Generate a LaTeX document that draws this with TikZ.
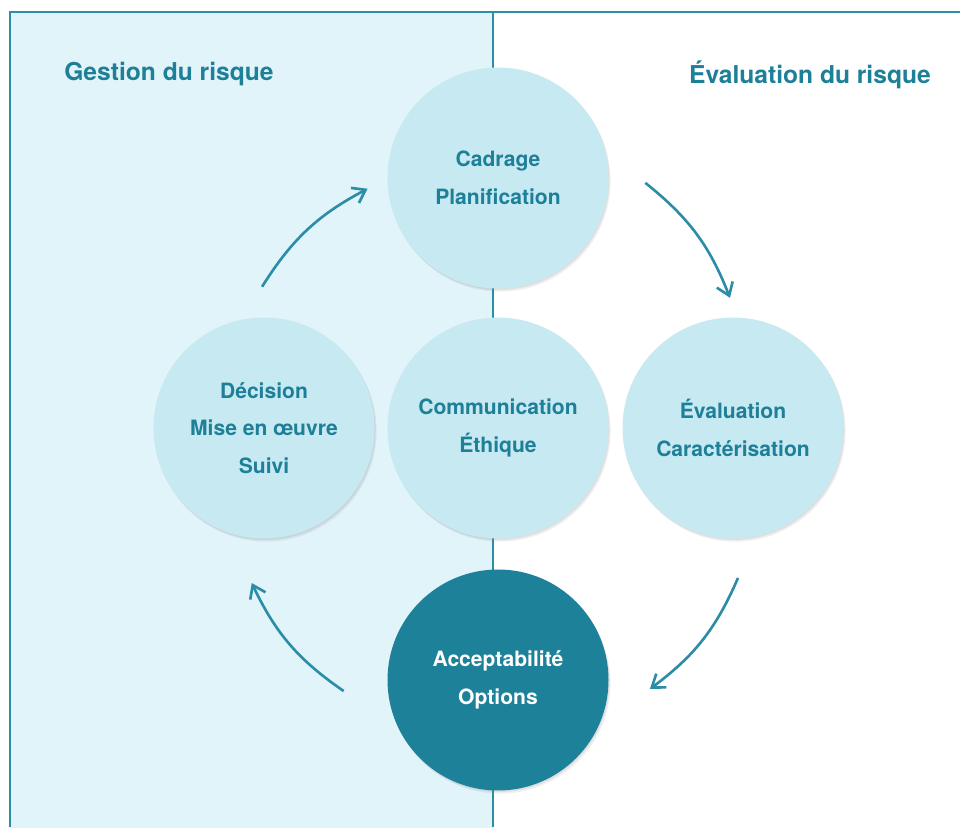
\documentclass[tikz,border=0pt]{standalone}
\usepackage{fontspec}
\setmainfont{TeX Gyre Heros}
\usepackage{tikz}
\usetikzlibrary{arrows.meta,shadows}
\pgfdeclarelayer{bg}
\pgfsetlayers{bg,main}

\definecolor{teal}{HTML}{1C8199}
\definecolor{tealtext}{HTML}{1D7F98}
\definecolor{rule}{HTML}{2B8DA6}
\definecolor{bubble}{HTML}{C7E9F2}
\definecolor{panel}{HTML}{E1F4FA}

\begin{document}
\begin{tikzpicture}[
        stage/.style={circle, minimum size=4.42cm, fill=bubble, text=tealtext, align=center,
            font=\bfseries\fontsize{12}{21.5}\selectfont,
            drop shadow={shadow xshift=1.2pt, shadow yshift=-1.8pt, opacity=.12},
            drop shadow={shadow xshift=0.6pt, shadow yshift=-0.9pt, opacity=.15}},
        title/.style={text=tealtext, font=\bfseries\fontsize{14}{16}\selectfont},
        cycle/.style={rule, line width=1.5pt, -{Straight Barb[length=2.4mm, width=3.4mm]}}
    ]
                \useasboundingbox (0,0) rectangle (19.2,16.54);
                \begin{pgfonlayer}{bg}
                    \fill[panel] (0.2,-0.5) rectangle (9.86,16.3);
                    \draw[rule, line width=0.85pt] (0.2,0) -- (0.2,16.3) -- (19.3,16.3);
                    \draw[rule, line width=0.85pt] (9.86,0) -- (9.86,16.3);
                \end{pgfonlayer}
                \node[title] (gestion) at (3.38,15.06) {Gestion du risque};
                \node[title] (evalrisque) at (16.2,15.04) {Évaluation du risque};
                \node[stage] (cadrage) at (9.96,12.98) {Cadrage\\Planification};
                \node[stage] (decision) at (5.28,7.98) {Décision\\Mise en œuvre\\Suivi};
                \node[stage] (comm) at (9.96,7.98) {Communication\\Éthique};
                \node[stage] (evaluation) at (14.66,7.98) {Évaluation\\Caractérisation};
                \node[stage, fill=teal, text=white] (accept) at (9.96,2.94) {Acceptabilité\\Options};
                \coordinate (s1) at ([shift={(149.1:5.5)}]comm.center);
                \coordinate (e1) at ([shift={(118.6:5.45)}]comm.center);
                \coordinate (s2) at ([shift={(59:5.72)}]comm.center);
                \coordinate (e2) at ([shift={(29.3:5.32)}]comm.center);
                \coordinate (s3) at ([shift={(-32:5.66)}]comm.center);
                \coordinate (e3) at ([shift={(-59.8:6.04)}]comm.center);
                \coordinate (s4) at ([shift={(239.6:6.1)}]comm.center);
                \coordinate (e4) at ([shift={(212.2:5.82)}]comm.center);
                \draw[cycle] (s1) to[bend left=15] (e1);
                \draw[cycle] (s2) to[bend left=15] (e2);
                \draw[cycle] (s3) to[bend left=15] (e3);
                \draw[cycle] (s4) to[bend left=15] (e4);
\end{tikzpicture}
\end{document}
